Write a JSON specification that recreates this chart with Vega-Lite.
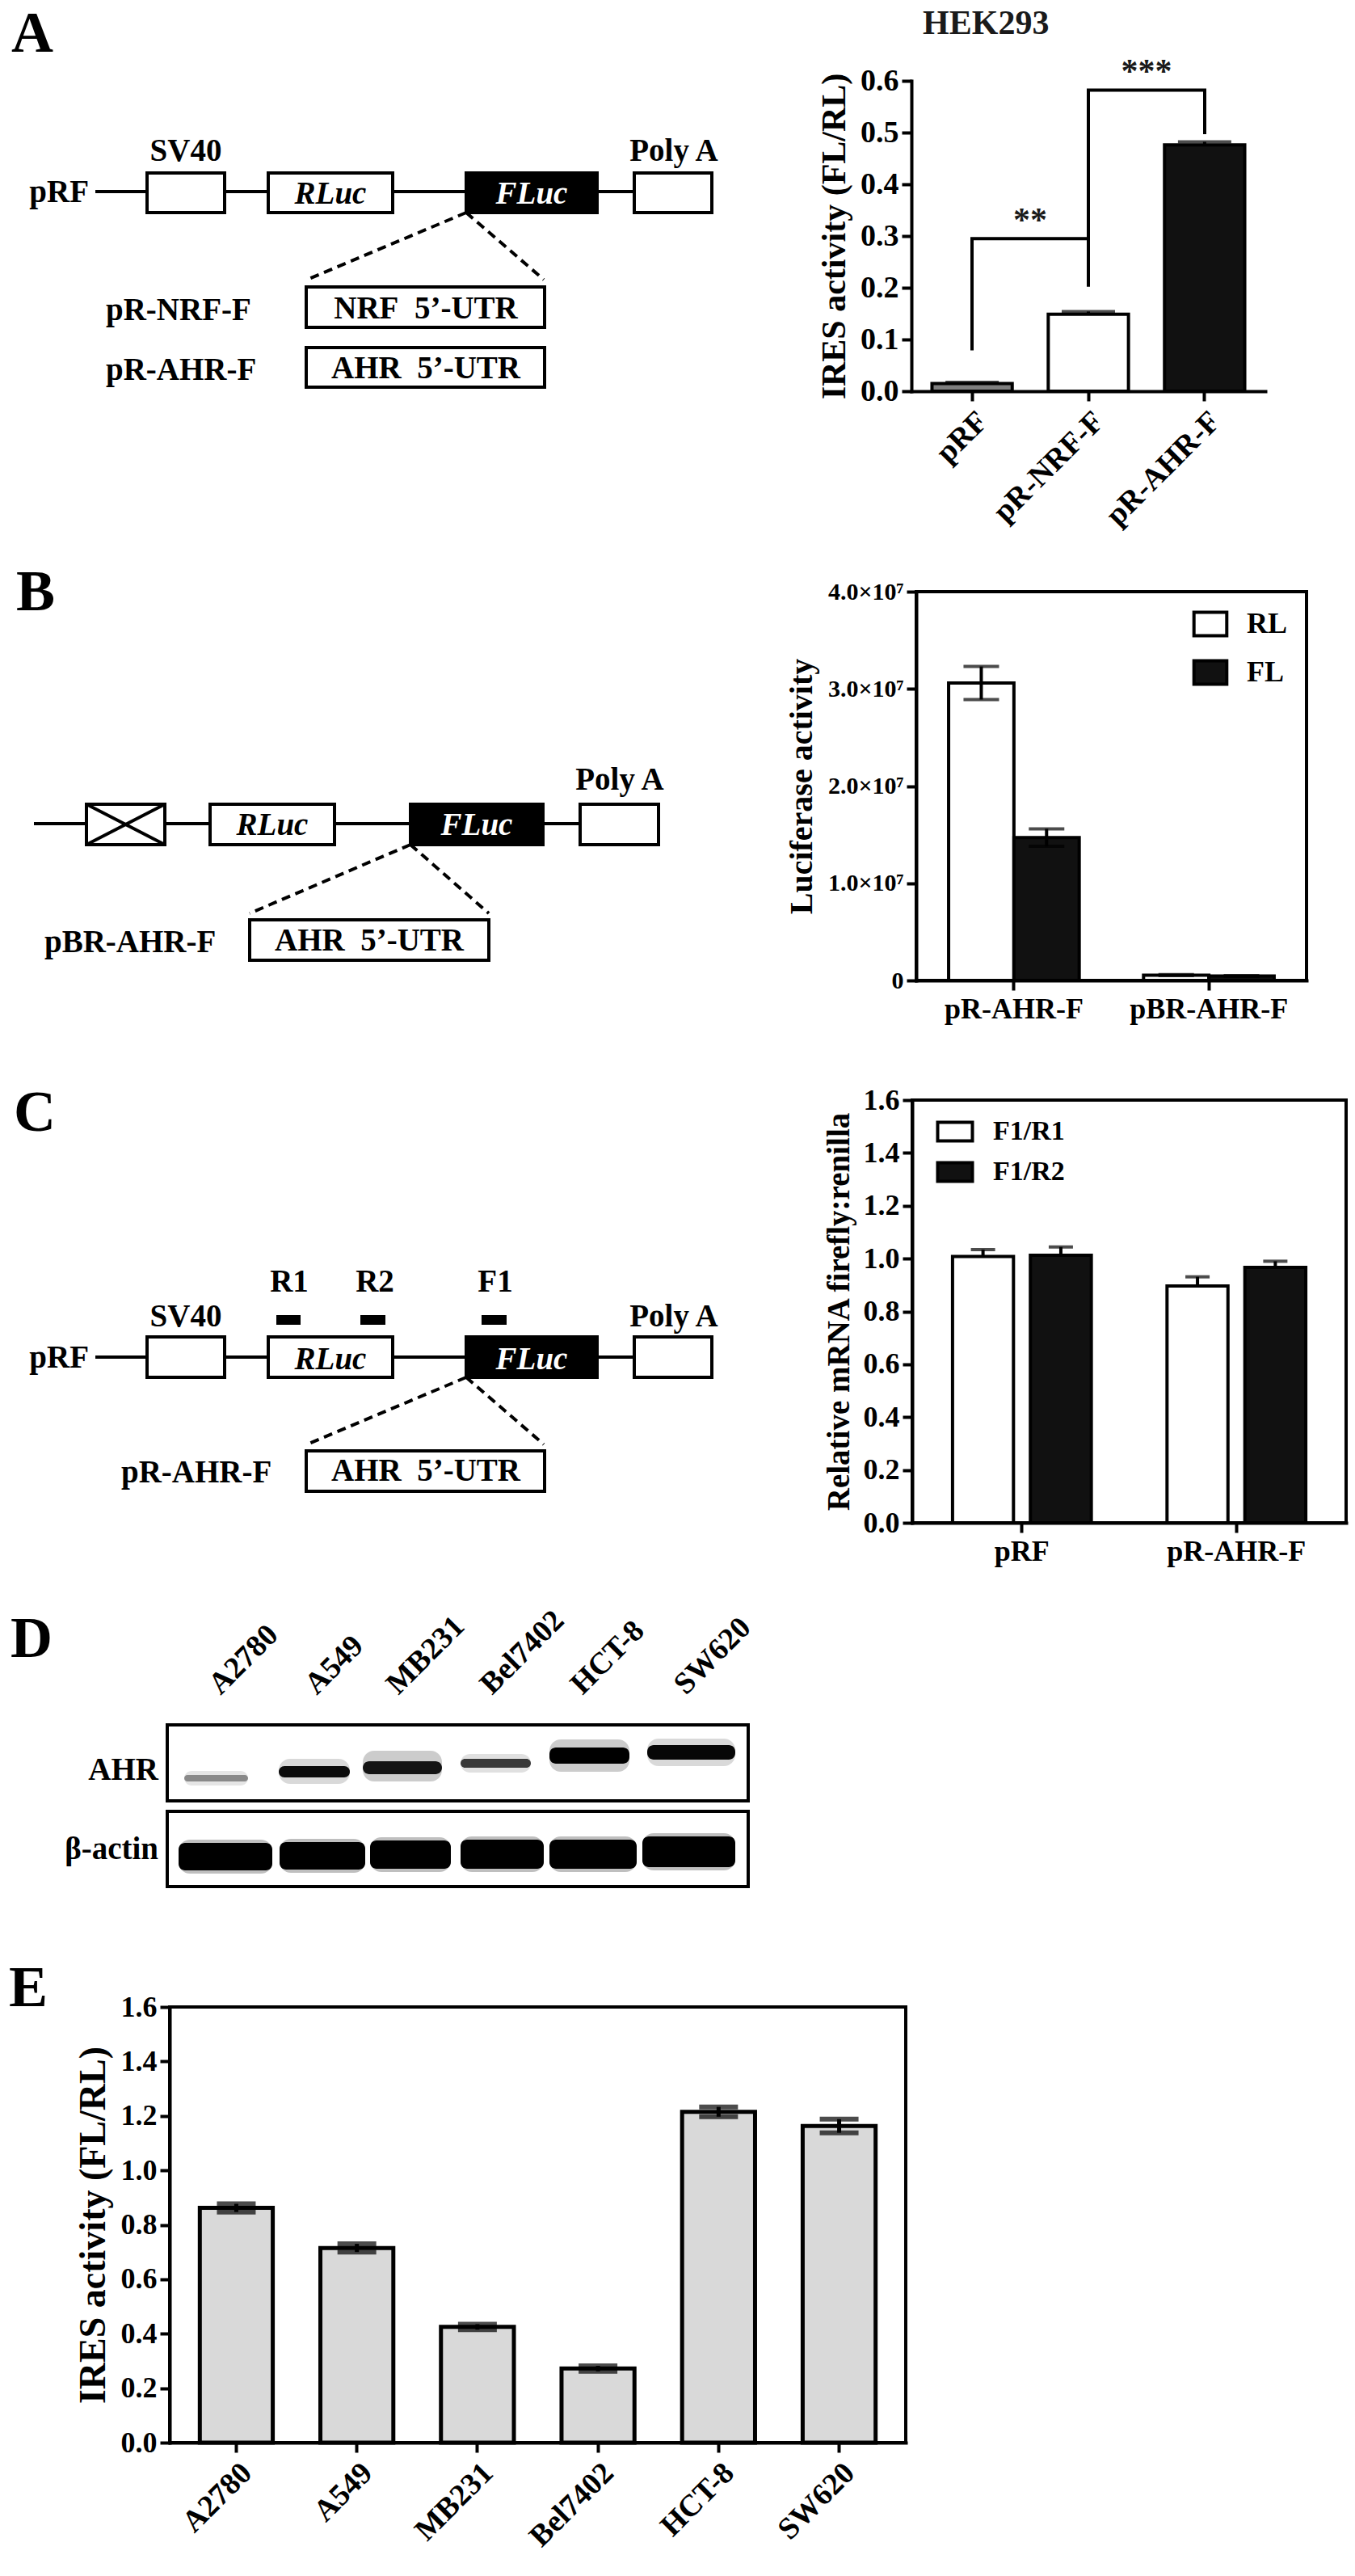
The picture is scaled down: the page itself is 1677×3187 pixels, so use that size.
{
  "$schema": "https://vega.github.io/schema/vega-lite/v6.json",
  "width": 1677,
  "height": 3187,
  "autosize": {"type": "none"},
  "padding": 0,
  "background": "white",
  "config": {
    "view": {"stroke": null},
    "font": "Liberation Serif",
    "axis": {
      "labelFont": "Liberation Serif", "labelFontWeight": "bold", "labelColor": "black",
      "titleFont": "Liberation Serif", "titleFontWeight": "bold", "titleColor": "black",
      "domainColor": "black", "tickColor": "black", "domainWidth": 4, "tickWidth": 4,
      "tickSize": 12, "grid": false, "domainCap": "square", "labelOverlap": false, "labelBound": false, "labelFlush": false, "labelLimit": 400
    },
    "legend": {"labelFont": "Liberation Serif", "labelFontWeight": "bold", "labelColor": "black", "padding": 0, "labelLimit": 400},
    "text": {"font": "Liberation Serif", "fontWeight": "bold"}
  },
  "datasets": {
    "lines": [
      {"panel": "A", "x": 118, "y": 237, "x2": 785, "y2": 237, "style": "solid"},
      {"panel": "A", "x": 577, "y": 263, "x2": 380, "y2": 346, "style": "dashed"},
      {"panel": "A", "x": 577, "y": 263, "x2": 673, "y2": 346, "style": "dashed"},
      {"panel": "B", "x": 42, "y": 1019, "x2": 718, "y2": 1019, "style": "solid"},
      {"panel": "B", "x": 508, "y": 1045, "x2": 309, "y2": 1130, "style": "dashed"},
      {"panel": "B", "x": 508, "y": 1045, "x2": 605, "y2": 1130, "style": "dashed"},
      {"panel": "C", "x": 118, "y": 1679, "x2": 785, "y2": 1679, "style": "solid"},
      {"panel": "C", "x": 577, "y": 1704, "x2": 380, "y2": 1787, "style": "dashed"},
      {"panel": "C", "x": 577, "y": 1704, "x2": 673, "y2": 1787, "style": "dashed"}
    ],
    "boxes": [
      {"panel": "A", "part": "SV40", "x": 182, "x2": 278, "y": 214, "y2": 263, "kind": "open"},
      {"panel": "A", "part": "RLuc", "x": 332, "x2": 486, "y": 214, "y2": 263, "kind": "open"},
      {"panel": "A", "part": "FLuc", "x": 577, "x2": 739, "y": 214, "y2": 263, "kind": "solid"},
      {"panel": "A", "part": "Poly A", "x": 785, "x2": 881, "y": 214, "y2": 263, "kind": "open"},
      {"panel": "A", "part": "NRF 5'-UTR", "x": 379, "x2": 674, "y": 355, "y2": 405, "kind": "open"},
      {"panel": "A", "part": "AHR 5'-UTR", "x": 379, "x2": 674, "y": 430, "y2": 479, "kind": "open"},
      {"panel": "B", "part": "promoterless", "x": 107, "x2": 204, "y": 995, "y2": 1045, "kind": "open"},
      {"panel": "B", "part": "RLuc", "x": 260, "x2": 414, "y": 995, "y2": 1045, "kind": "open"},
      {"panel": "B", "part": "FLuc", "x": 508, "x2": 672, "y": 995, "y2": 1045, "kind": "solid"},
      {"panel": "B", "part": "Poly A", "x": 718, "x2": 815, "y": 995, "y2": 1045, "kind": "open"},
      {"panel": "B", "part": "AHR 5'-UTR", "x": 309, "x2": 605, "y": 1138, "y2": 1188, "kind": "open"},
      {"panel": "C", "part": "SV40", "x": 182, "x2": 278, "y": 1654, "y2": 1704, "kind": "open"},
      {"panel": "C", "part": "RLuc", "x": 332, "x2": 486, "y": 1654, "y2": 1704, "kind": "open"},
      {"panel": "C", "part": "FLuc", "x": 577, "x2": 739, "y": 1654, "y2": 1704, "kind": "solid"},
      {"panel": "C", "part": "Poly A", "x": 785, "x2": 881, "y": 1654, "y2": 1704, "kind": "open"},
      {"panel": "C", "part": "R1", "x": 344, "x2": 370, "y": 1629, "y2": 1637, "kind": "solid"},
      {"panel": "C", "part": "R2", "x": 448, "x2": 475, "y": 1629, "y2": 1637, "kind": "solid"},
      {"panel": "C", "part": "F1", "x": 598, "x2": 625, "y": 1629, "y2": 1637, "kind": "solid"},
      {"panel": "C", "part": "AHR 5'-UTR", "x": 379, "x2": 674, "y": 1795, "y2": 1845, "kind": "open"},
      {"panel": "D", "part": "AHR blot", "x": 207, "x2": 926, "y": 2134, "y2": 2228, "kind": "open"},
      {"panel": "D", "part": "actin blot", "x": 207, "x2": 926, "y": 2241, "y2": 2334, "kind": "open"}
    ],
    "cross": [
      {"panel": "B", "x": 107, "y": 995, "x2": 204, "y2": 1045},
      {"panel": "B", "x": 107, "y": 1045, "x2": 204, "y2": 995}
    ],
    "bands": [
      {"blot": "AHR", "lane": "A2780", "x": 228, "x2": 307, "y": 2196, "y2": 2204, "hy": 2191, "hy2": 2209, "density": 0.4, "halo": 0.1},
      {"blot": "AHR", "lane": "A549", "x": 345, "x2": 433, "y": 2185, "y2": 2199, "hy": 2176, "hy2": 2207, "density": 0.95, "halo": 0.15},
      {"blot": "AHR", "lane": "MB231", "x": 449, "x2": 547, "y": 2179, "y2": 2195, "hy": 2166, "hy2": 2204, "density": 0.9, "halo": 0.2},
      {"blot": "AHR", "lane": "Bel7402", "x": 570, "x2": 657, "y": 2176, "y2": 2187, "hy": 2170, "hy2": 2193, "density": 0.75, "halo": 0.12},
      {"blot": "AHR", "lane": "HCT-8", "x": 680, "x2": 779, "y": 2162, "y2": 2182, "hy": 2152, "hy2": 2192, "density": 1, "halo": 0.2},
      {"blot": "AHR", "lane": "SW620", "x": 801, "x2": 910, "y": 2159, "y2": 2177, "hy": 2151, "hy2": 2185, "density": 0.97, "halo": 0.15},
      {"blot": "β-actin", "lane": "A2780", "x": 221, "x2": 337, "y": 2280, "y2": 2314, "hy": 2276, "hy2": 2318, "density": 1, "halo": 0.25},
      {"blot": "β-actin", "lane": "A549", "x": 346, "x2": 452, "y": 2279, "y2": 2313, "hy": 2275, "hy2": 2317, "density": 1, "halo": 0.25},
      {"blot": "β-actin", "lane": "MB231", "x": 458, "x2": 558, "y": 2277, "y2": 2312, "hy": 2273, "hy2": 2316, "density": 1, "halo": 0.25},
      {"blot": "β-actin", "lane": "Bel7402", "x": 570, "x2": 673, "y": 2276, "y2": 2312, "hy": 2272, "hy2": 2316, "density": 1, "halo": 0.25},
      {"blot": "β-actin", "lane": "HCT-8", "x": 680, "x2": 788, "y": 2276, "y2": 2312, "hy": 2272, "hy2": 2316, "density": 1, "halo": 0.25},
      {"blot": "β-actin", "lane": "SW620", "x": 795, "x2": 910, "y": 2272, "y2": 2310, "hy": 2268, "hy2": 2314, "density": 1, "halo": 0.25}
    ],
    "labels_center": [
      {"t": "SV40", "x": 230, "y": 199},
      {"t": "Poly A", "x": 834, "y": 199},
      {"t": "NRF\u00a0 5’-UTR", "x": 527, "y": 394},
      {"t": "AHR\u00a0 5’-UTR", "x": 527, "y": 468},
      {"t": "Poly A", "x": 767, "y": 977},
      {"t": "AHR\u00a0 5’-UTR", "x": 457, "y": 1176},
      {"t": "R1", "x": 358, "y": 1598},
      {"t": "R2", "x": 464, "y": 1598},
      {"t": "F1", "x": 613, "y": 1598},
      {"t": "SV40", "x": 230, "y": 1641},
      {"t": "Poly A", "x": 834, "y": 1641},
      {"t": "AHR\u00a0 5’-UTR", "x": 527, "y": 1832}
    ],
    "labels_left": [
      {"t": "pR-NRF-F", "x": 131, "y": 396},
      {"t": "pR-AHR-F", "x": 131, "y": 470},
      {"t": "pBR-AHR-F", "x": 55, "y": 1178},
      {"t": "pR-AHR-F", "x": 150, "y": 1834}
    ],
    "labels_right": [
      {"t": "pRF", "x": 110, "y": 250},
      {"t": "pRF", "x": 110, "y": 1692},
      {"t": "AHR", "x": 196, "y": 2202},
      {"t": "β-actin", "x": 196, "y": 2300}
    ],
    "labels_italic": [
      {"t": "RLuc", "x": 409, "y": 252, "on": "open"},
      {"t": "FLuc", "x": 658, "y": 252, "on": "solid"},
      {"t": "RLuc", "x": 337, "y": 1033, "on": "open"},
      {"t": "FLuc", "x": 590, "y": 1033, "on": "solid"},
      {"t": "RLuc", "x": 409, "y": 1694, "on": "open"},
      {"t": "FLuc", "x": 658, "y": 1694, "on": "solid"}
    ],
    "letters": [
      {"t": "A", "x": 14, "y": 64},
      {"t": "B", "x": 20, "y": 755},
      {"t": "C", "x": 17, "y": 1399},
      {"t": "D", "x": 13, "y": 2050},
      {"t": "E", "x": 11, "y": 2482}
    ],
    "lanes": [
      {"t": "A2780", "x": 273, "y": 2098},
      {"t": "A549", "x": 392, "y": 2098},
      {"t": "MB231", "x": 493, "y": 2098},
      {"t": "Bel7402", "x": 609, "y": 2098},
      {"t": "HCT-8", "x": 721, "y": 2098},
      {"t": "SW620", "x": 849, "y": 2098}
    ],
    "hek293": [
      {"construct": "pRF", "mean": 0.015, "hi": 0.017},
      {"construct": "pR-NRF-F", "mean": 0.149, "hi": 0.154},
      {"construct": "pR-AHR-F", "mean": 0.476, "hi": 0.482}
    ],
    "brackets": [
      {"pair": "pRF vs pR-NRF-F", "seq": 1, "pos": 0, "level": 0.079},
      {"pair": "pRF vs pR-NRF-F", "seq": 2, "pos": 0, "level": 0.295},
      {"pair": "pRF vs pR-NRF-F", "seq": 3, "pos": 1, "level": 0.295},
      {"pair": "pRF vs pR-NRF-F", "seq": 4, "pos": 1, "level": 0.202},
      {"pair": "pR-NRF-F vs pR-AHR-F", "seq": 1, "pos": 1, "level": 0.295},
      {"pair": "pR-NRF-F vs pR-AHR-F", "seq": 2, "pos": 1, "level": 0.582},
      {"pair": "pR-NRF-F vs pR-AHR-F", "seq": 3, "pos": 2, "level": 0.582},
      {"pair": "pR-NRF-F vs pR-AHR-F", "seq": 4, "pos": 2, "level": 0.497}
    ],
    "stars": [
      {"label": "**", "pos": 0.5, "level": 0.31},
      {"label": "***", "pos": 1.5, "level": 0.597},
      {"label": "HEK293", "pos": 0.12, "level": 0.69}
    ],
    "luc": [
      {"construct": "pR-AHR-F", "series": "RL", "mean": 30600000, "lo": 28900000, "hi": 32300000},
      {"construct": "pR-AHR-F", "series": "FL", "mean": 14700000, "lo": 13800000, "hi": 15600000},
      {"construct": "pBR-AHR-F", "series": "RL", "mean": 550000, "lo": 500000, "hi": 600000},
      {"construct": "pBR-AHR-F", "series": "FL", "mean": 450000, "lo": 410000, "hi": 490000}
    ],
    "mrna": [
      {"construct": "pRF", "primer": "F1/R1", "mean": 1.008, "hi": 1.034},
      {"construct": "pRF", "primer": "F1/R2", "mean": 1.013, "hi": 1.044},
      {"construct": "pR-AHR-F", "primer": "F1/R1", "mean": 0.896, "hi": 0.931},
      {"construct": "pR-AHR-F", "primer": "F1/R2", "mean": 0.967, "hi": 0.99}
    ],
    "cells": [
      {"line": "A2780", "mean": 0.862, "lo": 0.847, "hi": 0.877},
      {"line": "A549", "mean": 0.715, "lo": 0.7, "hi": 0.73},
      {"line": "MB231", "mean": 0.425, "lo": 0.415, "hi": 0.435},
      {"line": "Bel7402", "mean": 0.272, "lo": 0.262, "hi": 0.282},
      {"line": "HCT-8", "mean": 1.215, "lo": 1.197, "hi": 1.233},
      {"line": "SW620", "mean": 1.163, "lo": 1.138, "hi": 1.188}
    ],
    "frame": [{"left": 0, "right": 1, "bottom": 0, "top": 1}]
  },
  "layer": [
    {
      "encoding": {
        "x": {"field": "x", "type": "quantitative", "scale": {"domain": [0, 1677], "range": [0, 1677], "nice": false, "zero": false}, "axis": null},
        "y": {"field": "y", "type": "quantitative", "scale": {"domain": [0, 3187], "range": [0, 3187], "nice": false, "zero": false}, "axis": null}
      },
      "layer": [
        {
          "data": {"name": "lines"},
          "mark": {"type": "rule", "color": "black", "strokeWidth": 4},
          "encoding": {
            "x2": {"field": "x2"}, "y2": {"field": "y2"},
            "strokeDash": {"field": "style", "type": "nominal", "scale": {"domain": ["solid", "dashed"], "range": [[1, 0], [11, 7]]}, "legend": null}
          }
        },
        {
          "data": {"name": "boxes"},
          "mark": {"type": "rect", "stroke": "black", "strokeWidth": 4},
          "encoding": {
            "x2": {"field": "x2"}, "y2": {"field": "y2"},
            "fill": {"field": "kind", "type": "nominal", "scale": {"domain": ["open", "solid"], "range": ["#ffffff", "#000000"]}, "legend": null}
          }
        },
        {
          "data": {"name": "cross"},
          "mark": {"type": "rule", "color": "black", "strokeWidth": 4},
          "encoding": {"x2": {"field": "x2"}, "y2": {"field": "y2"}}
        },
        {
          "data": {"name": "bands"},
          "mark": {"type": "rect", "fill": "black", "cornerRadius": 14},
          "encoding": {
            "y": {"field": "hy", "type": "quantitative"}, "y2": {"field": "hy2"}, "x2": {"field": "x2"},
            "opacity": {"field": "halo", "type": "quantitative", "scale": {"domain": [0, 1], "range": [0, 1]}, "legend": null}
          }
        },
        {
          "data": {"name": "bands"},
          "mark": {"type": "rect", "fill": "black", "cornerRadius": 8},
          "encoding": {
            "y2": {"field": "y2"}, "x2": {"field": "x2"},
            "opacity": {"field": "density", "type": "quantitative"}
          }
        },
        {
          "data": {"name": "labels_center"},
          "mark": {"type": "text", "fontSize": 39, "align": "center", "baseline": "alphabetic", "color": "black"},
          "encoding": {"text": {"field": "t"}}
        },
        {
          "data": {"name": "labels_left"},
          "mark": {"type": "text", "fontSize": 39, "align": "left", "baseline": "alphabetic", "color": "black"},
          "encoding": {"text": {"field": "t"}}
        },
        {
          "data": {"name": "labels_right"},
          "mark": {"type": "text", "fontSize": 39, "align": "right", "baseline": "alphabetic", "color": "black"},
          "encoding": {"text": {"field": "t"}}
        },
        {
          "data": {"name": "labels_italic"},
          "mark": {"type": "text", "fontSize": 39, "fontStyle": "italic", "align": "center", "baseline": "alphabetic"},
          "encoding": {
            "text": {"field": "t"},
            "color": {"field": "on", "type": "nominal", "scale": {"domain": ["open", "solid"], "range": ["#000000", "#ffffff"]}, "legend": null}
          }
        },
        {
          "data": {"name": "letters"},
          "mark": {"type": "text", "fontSize": 72, "align": "left", "baseline": "alphabetic", "color": "black"},
          "encoding": {"text": {"field": "t"}}
        },
        {
          "data": {"name": "lanes"},
          "mark": {"type": "text", "fontSize": 38, "align": "left", "baseline": "alphabetic", "angle": 315, "color": "black"},
          "encoding": {"text": {"field": "t"}}
        }
      ]
    },
    {
      "data": {"name": "hek293"},
      "encoding": {
        "x": {
          "field": "construct", "type": "nominal", "sort": ["pRF", "pR-NRF-F", "pR-AHR-F"],
          "scale": {"range": [1128, 1566], "paddingInner": 0.31, "paddingOuter": 0.177},
          "axis": {"orient": "bottom", "offset": -2703, "title": null, "labelAngle": -45, "labelFontSize": 38, "labelPadding": 6}
        }
      },
      "layer": [
        {
          "mark": {"type": "bar", "stroke": "black", "strokeWidth": 4},
          "encoding": {
            "y": {
              "field": "mean", "type": "quantitative",
              "scale": {"domain": [0, 0.6], "range": [484, 100], "nice": false},
              "axis": {"orient": "left", "offset": -1128, "title": "IRES activity (FL/RL)", "titleFontSize": 42, "titlePadding": 10, "labelFontSize": 38, "labelPadding": 4, "values": [0, 0.1, 0.2, 0.3, 0.4, 0.5, 0.6], "format": ".1f"}
            },
            "fill": {"field": "construct", "type": "nominal", "scale": {"domain": ["pRF", "pR-NRF-F", "pR-AHR-F"], "range": ["#7f7f7f", "#ffffff", "#111111"]}, "legend": null}
          }
        },
        {
          "mark": {"type": "rule", "color": "black", "strokeWidth": 4},
          "encoding": {"y": {"field": "mean", "type": "quantitative"}, "y2": {"field": "hi"}}
        },
        {
          "mark": {"type": "tick", "color": "black", "thickness": 4, "size": 66},
          "encoding": {"y": {"field": "hi", "type": "quantitative"}}
        }
      ]
    },
    {
      "encoding": {
        "x": {"field": "pos", "type": "quantitative", "scale": {"domain": [0, 2], "range": [1203, 1491], "nice": false, "zero": false}, "axis": null},
        "y": {"field": "level", "type": "quantitative", "scale": {"domain": [0, 0.6], "range": [484, 100], "nice": false, "zero": false}, "axis": null}
      },
      "layer": [
        {
          "data": {"name": "brackets"},
          "mark": {"type": "line", "color": "black", "strokeWidth": 4, "strokeJoin": "miter", "strokeCap": "butt"},
          "encoding": {"detail": {"field": "pair", "type": "nominal"}, "order": {"field": "seq", "type": "quantitative"}}
        },
        {
          "data": {"name": "stars"},
          "mark": {"type": "text", "fontSize": 42, "align": "center", "baseline": "alphabetic", "color": "#1a1a1a"},
          "encoding": {"text": {"field": "label"}}
        }
      ]
    },
    {
      "data": {"name": "frame"},
      "mark": {"type": "rect", "fill": "transparent", "stroke": "black", "strokeWidth": 4},
      "encoding": {
        "x": {"field": "left", "type": "quantitative", "scale": {"domain": [0, 1], "range": [1134, 1617], "nice": false, "zero": false}, "axis": null},
        "x2": {"field": "right"},
        "y": {"field": "bottom", "type": "quantitative", "scale": {"domain": [0, 1], "range": [1213, 732], "nice": false, "zero": false}, "axis": null},
        "y2": {"field": "top"}
      }
    },
    {
      "data": {"name": "luc"},
      "encoding": {
        "x": {
          "field": "construct", "type": "nominal", "sort": ["pR-AHR-F", "pBR-AHR-F"],
          "scale": {"range": [1134, 1617], "paddingInner": 0.33, "paddingOuter": 0.166},
          "axis": {"orient": "bottom", "offset": -1974, "title": null, "labelAngle": 0, "labelFontSize": 36, "labelPadding": 6}
        },
        "xOffset": {"field": "series", "type": "nominal", "sort": ["RL", "FL"], "scale": {"paddingInner": 0, "paddingOuter": 0}}
      },
      "layer": [
        {
          "mark": {"type": "bar", "stroke": "black", "strokeWidth": 4},
          "encoding": {
            "y": {
              "field": "mean", "type": "quantitative",
              "scale": {"domain": [0, 40000000], "range": [1213, 732], "nice": false},
              "axis": {"orient": "left", "offset": -1134, "title": "Luciferase activity", "titleFontSize": 40, "titlePadding": 12, "labelFontSize": 30, "labelPadding": 4, "values": [0, 10000000, 20000000, 30000000, 40000000], "labelExpr": "datum.value == 0 ? '0' : format(datum.value / 10000000, '.1f') + '×10⁷'"}
            },
            "fill": {
              "field": "series", "type": "nominal", "sort": ["RL", "FL"],
              "scale": {"domain": ["RL", "FL"], "range": ["#ffffff", "#111111"]},
              "legend": {"orient": "none", "legendX": 1480, "legendY": 754, "title": null, "symbolType": "M-1.4,-1H1.4V1H-1.4Z", "symbolSize": 841, "symbolStrokeColor": "black", "symbolStrokeWidth": 4, "labelFontSize": 36, "labelOffset": 27, "rowPadding": 14}
            }
          }
        },
        {
          "mark": {"type": "rule", "color": "black", "strokeWidth": 4},
          "encoding": {"y": {"field": "lo", "type": "quantitative"}, "y2": {"field": "hi"}}
        },
        {
          "mark": {"type": "tick", "color": "black", "thickness": 4, "size": 44},
          "encoding": {"y": {"field": "hi", "type": "quantitative"}}
        },
        {
          "mark": {"type": "tick", "color": "black", "thickness": 4, "size": 44},
          "encoding": {"y": {"field": "lo", "type": "quantitative"}}
        }
      ]
    },
    {
      "data": {"name": "frame"},
      "mark": {"type": "rect", "fill": "transparent", "stroke": "black", "strokeWidth": 4},
      "encoding": {
        "x": {"field": "left", "type": "quantitative", "scale": {"domain": [0, 1], "range": [1129, 1666], "nice": false, "zero": false}, "axis": null},
        "x2": {"field": "right"},
        "y": {"field": "bottom", "type": "quantitative", "scale": {"domain": [0, 1], "range": [1884, 1361], "nice": false, "zero": false}, "axis": null},
        "y2": {"field": "top"}
      }
    },
    {
      "data": {"name": "mrna"},
      "encoding": {
        "x": {
          "field": "construct", "type": "nominal", "sort": ["pRF", "pR-AHR-F"],
          "scale": {"range": [1129, 1666], "paddingInner": 0.353, "paddingOuter": 0.188},
          "axis": {"orient": "bottom", "offset": -1303, "title": null, "labelAngle": 0, "labelFontSize": 36, "labelPadding": 6}
        },
        "xOffset": {"field": "primer", "type": "nominal", "sort": ["F1/R1", "F1/R2"], "scale": {"paddingInner": 0.217, "paddingOuter": 0}}
      },
      "layer": [
        {
          "mark": {"type": "bar", "stroke": "black", "strokeWidth": 4},
          "encoding": {
            "y": {
              "field": "mean", "type": "quantitative",
              "scale": {"domain": [0, 1.6], "range": [1884, 1361], "nice": false},
              "axis": {"orient": "left", "offset": -1129, "title": "Relative mRNA firefly:renilla", "titleFontSize": 39, "titlePadding": 10, "labelFontSize": 36, "labelPadding": 4, "values": [0, 0.2, 0.4, 0.6, 0.8, 1.0, 1.2, 1.4, 1.6], "format": ".1f"}
            },
            "fill": {
              "field": "primer", "type": "nominal", "sort": ["F1/R1", "F1/R2"],
              "scale": {"domain": ["F1/R1", "F1/R2"], "range": ["#ffffff", "#111111"]},
              "legend": {"orient": "none", "legendX": 1165, "legendY": 1383, "title": null, "symbolType": "M-1.87,-1H1.87V1H-1.87Z", "symbolSize": 529, "symbolStrokeColor": "black", "symbolStrokeWidth": 4, "labelFontSize": 34, "labelOffset": 30, "rowPadding": 10}
            }
          }
        },
        {
          "mark": {"type": "rule", "color": "black", "strokeWidth": 4},
          "encoding": {"y": {"field": "mean", "type": "quantitative"}, "y2": {"field": "hi"}}
        },
        {
          "mark": {"type": "tick", "color": "black", "thickness": 4, "size": 30},
          "encoding": {"y": {"field": "hi", "type": "quantitative"}}
        }
      ]
    },
    {
      "data": {"name": "frame"},
      "mark": {"type": "rect", "fill": "transparent", "stroke": "black", "strokeWidth": 4},
      "encoding": {
        "x": {"field": "left", "type": "quantitative", "scale": {"domain": [0, 1], "range": [210, 1121], "nice": false, "zero": false}, "axis": null},
        "x2": {"field": "right"},
        "y": {"field": "bottom", "type": "quantitative", "scale": {"domain": [0, 1], "range": [3022, 2483], "nice": false, "zero": false}, "axis": null},
        "y2": {"field": "top"}
      }
    },
    {
      "data": {"name": "cells"},
      "encoding": {
        "x": {
          "field": "line", "type": "nominal", "sort": ["A2780", "A549", "MB231", "Bel7402", "HCT-8", "SW620"],
          "scale": {"range": [210, 1121], "paddingInner": 0.395, "paddingOuter": 0.25},
          "axis": {"orient": "bottom", "offset": -165, "title": null, "labelAngle": -45, "labelFontSize": 38, "labelPadding": 6}
        }
      },
      "layer": [
        {
          "mark": {"type": "bar", "fill": "#d9d9d9", "stroke": "black", "strokeWidth": 5},
          "encoding": {
            "y": {
              "field": "mean", "type": "quantitative",
              "scale": {"domain": [0, 1.6], "range": [3022, 2483], "nice": false},
              "axis": {"orient": "left", "offset": -210, "title": "IRES activity (FL/RL)", "titleFontSize": 46, "titlePadding": 10, "labelFontSize": 36, "labelPadding": 4, "values": [0, 0.2, 0.4, 0.6, 0.8, 1.0, 1.2, 1.4, 1.6], "format": ".1f"}
            }
          }
        },
        {
          "mark": {"type": "rule", "color": "black", "strokeWidth": 5},
          "encoding": {"y": {"field": "lo", "type": "quantitative"}, "y2": {"field": "hi"}}
        },
        {
          "mark": {"type": "tick", "color": "black", "thickness": 6, "size": 48},
          "encoding": {"y": {"field": "hi", "type": "quantitative"}}
        },
        {
          "mark": {"type": "tick", "color": "black", "thickness": 6, "size": 48},
          "encoding": {"y": {"field": "lo", "type": "quantitative"}}
        }
      ]
    }
  ],
  "resolve": {
    "scale": {"x": "independent", "y": "independent", "xOffset": "independent", "fill": "independent", "color": "independent", "opacity": "independent", "strokeDash": "independent"},
    "axis": {"x": "independent", "y": "independent"},
    "legend": {"fill": "independent"}
  }
}
